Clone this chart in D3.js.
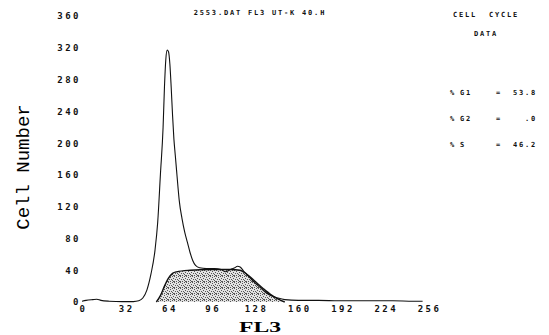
<!DOCTYPE html>
<html>
<head>
<meta charset="utf-8">
<script src="https://cdn.jsdelivr.net/npm/d3@7"></script>
<style>
  body { margin: 0; background: #fff; }
  svg { display: block; }
  .tk text { font-family: "DejaVu Sans Mono", monospace; font-size: 9px; font-weight: bold; fill: #111; letter-spacing: 2.5px; }
  .info { font-family: "DejaVu Sans Mono", monospace; font-size: 7px; font-weight: bold; fill: #111; letter-spacing: 1.8px; }
</style>
</head>
<body>
<svg id="chart" width="549" height="335"></svg>
<script>
// histogram (channel, cell count)
const histCh = [0, 3, 8, 11, 14, 20, 30, 38, 42, 45, 48, 51, 54, 56, 58, 60, 61, 62, 63, 64, 65, 66, 67, 68, 69, 70, 71, 72, 74, 76, 78, 80, 82, 84, 87, 92, 98, 103, 106, 110, 113, 115, 117, 120, 124, 128, 132, 136, 140, 145, 150, 160, 175, 190, 210, 230, 245, 252];
const histCount = [1, 2, 3, 3.5, 2, 1, 0.5, 0.5, 1.5, 5, 15, 35, 65, 100, 160, 220, 270, 305, 317, 315, 300, 270, 235, 205, 185, 165, 145, 127, 105, 88, 75, 62, 52, 46, 43, 42, 42, 41, 38, 41, 43, 45, 44, 38, 31, 24, 18, 12, 8, 5, 3, 2, 2, 1.5, 1.5, 1.5, 1, 1];

// S-phase fit
const sCh = [55, 58, 61, 64, 67, 70, 80, 95, 110, 117, 122, 128, 134, 140, 145, 150];
const sCount = [0, 8, 20, 30, 36, 38, 40, 41, 41, 40, 35, 26, 17, 9, 4, 0];

const xTicks = [0, 32, 64, 96, 128, 160, 192, 224, 256];
const yTicks = [0, 40, 80, 120, 160, 200, 240, 280, 320, 360];

const title = "2553.DAT FL3 UT-K 40.H";
const phaseNames = ["G1", "G2", "S"];
const phasePct = ["53.8", ".0", "46.2"];

const svg = d3.select('#chart');

const x = d3.scaleLinear().domain([0, 256]).range([82, 428]);
const y = d3.scaleLinear().domain([0, 360]).range([302, 16]);

// stipple pattern for the S-phase area
const pat = svg.append('defs').append('pattern')
  .attr('id', 'dots')
  .attr('width', 6).attr('height', 6)
  .attr('patternUnits', 'userSpaceOnUse');
pat.append('rect').attr('width', 6).attr('height', 6).attr('fill', '#e2e2e2');
[[0, 0], [4, 0], [2, 1], [5, 2], [1, 3], [3, 3], [4, 4], [0, 5], [2, 5], [5, 5]].forEach(function (p) {
  pat.append('rect').attr('x', p[0]).attr('y', p[1]).attr('width', 1).attr('height', 1).attr('fill', '#555');
});

const sData = sCh.map(function (c, i) { return [c, sCount[i]]; });
const hData = histCh.map(function (c, i) { return [c, histCount[i]]; });

svg.append('path')
  .datum(sData)
  .attr('d', d3.area().x(function (d) { return x(d[0]); }).y0(y(0)).y1(function (d) { return y(d[1]); }).curve(d3.curveMonotoneX))
  .attr('fill', 'url(#dots)');

svg.append('path')
  .datum(sData)
  .attr('d', d3.line().x(function (d) { return x(d[0]); }).y(function (d) { return y(d[1]); }).curve(d3.curveMonotoneX))
  .attr('fill', 'none').attr('stroke', '#111').attr('stroke-width', 1.4);

svg.append('path')
  .datum(hData)
  .attr('d', d3.line().x(function (d) { return x(d[0]); }).y(function (d) { return y(d[1]); }).curve(d3.curveMonotoneX))
  .attr('fill', 'none').attr('stroke', '#111').attr('stroke-width', 1.1);

// axes (labels only, no lines)
const yAxis = svg.append('g').attr('class', 'tk')
  .attr('transform', 'translate(81,0)')
  .call(d3.axisLeft(y).tickValues(yTicks).tickSize(0).tickPadding(0));
yAxis.select('.domain').remove();

const xAxis = svg.append('g').attr('class', 'tk')
  .attr('transform', 'translate(1,306)')
  .call(d3.axisBottom(x).tickValues(xTicks).tickSize(0).tickPadding(0));
xAxis.select('.domain').remove();

svg.append('text')
  .attr('transform', 'translate(29,167) rotate(-90)')
  .attr('text-anchor', 'middle')
  .style('font-family', '"Liberation Mono", monospace').style('font-size', '19px')
  .text('Cell Number');

svg.append('text')
  .attr('x', 260).attr('y', 332)
  .attr('text-anchor', 'middle')
  .attr('textLength', 42).attr('lengthAdjust', 'spacingAndGlyphs')
  .style('font-family', '"Liberation Serif", serif').style('font-size', '14px').style('font-weight', 'bold')
  .text('FL3');

svg.append('text').attr('class', 'info')
  .attr('x', 260).attr('y', 15).attr('text-anchor', 'middle')
  .text(title);

svg.append('text').attr('class', 'info')
  .attr('x', 486).attr('y', 17).attr('text-anchor', 'middle')
  .attr('xml:space', 'preserve')
  .text('CELL  CYCLE');
svg.append('text').attr('class', 'info')
  .attr('x', 486).attr('y', 36).attr('text-anchor', 'middle')
  .text('DATA');

const rows = svg.append('g').selectAll('g')
  .data(phaseNames)
  .enter().append('g')
  .attr('transform', function (d, i) { return 'translate(0,' + (95 + i * 26) + ')'; });
rows.append('text').attr('class', 'info').attr('x', 450).text('%');
rows.append('text').attr('class', 'info').attr('x', 460).text(function (d) { return d; });
rows.append('text').attr('class', 'info').attr('x', 496).text('=');
rows.append('text').attr('class', 'info').attr('x', 537).attr('text-anchor', 'end')
  .text(function (d, i) { return phasePct[i]; });
</script>
</body>
</html>
